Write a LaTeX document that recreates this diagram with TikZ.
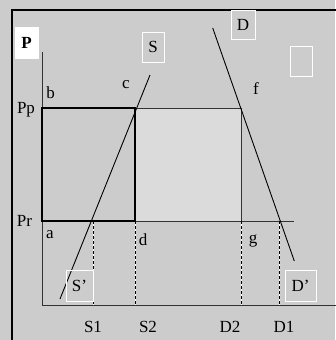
\documentclass[tikz,border=0pt]{standalone}
\usepackage{fontspec}
\setmainfont{Liberation Serif}
\usetikzlibrary{positioning}

\begin{document}
\begin{tikzpicture}[x=1pt,y=-1pt,font=\fontsize{17}{19}\selectfont,
  lab/.style={inner sep=0pt},
  tag/.style={draw=white,line width=1pt,inner sep=0pt},
  thk/.style={line width=2pt},
  axis/.style={draw=black!80,line width=0.9pt},
  dsh/.style={black,dashed,dash pattern=on 3pt off 2pt,line width=0.8pt}]
  \useasboundingbox (0,0) rectangle (335,340);
  \fill[black!20] (0,0) rectangle (335,340);
  \draw[line width=1.6pt] (12,350) -- (12,10) -- (350,10);
  % key points
  \coordinate (b) at (42,108);  \coordinate (c) at (135,108);
  \coordinate (a) at (42,221);  \coordinate (d) at (135,221);
  \coordinate (f) at (241,108); \coordinate (g) at (241,221);
  \coordinate (s1) at (93,221); \coordinate (d1) at (279,221);
  \coordinate (top) at (42,52); \coordinate (o) at (42,305);
  \coordinate (xend) at (345,305); \coordinate (prend) at (294,221);
  \fill[black!14] (c) rectangle (g);
  \draw[axis] (top) -- (o) -- (xend);
  \draw[axis] (c) -- (f) -- (g);
  \draw[axis] (d) -- (prend);
  \draw[thk] (b) rectangle (d);
  % dashed drops
  \foreach \p in {s1,d,g,d1}{
    \draw[white,line width=0.8pt] (\p) -- (\p |- o);
    \draw[dsh] (\p) -- (\p |- o);}
  % supply and demand
  \coordinate (sLo) at (60,299);  \coordinate (sHi) at (150,75);
  \coordinate (dHi) at (212.7,28); \coordinate (dLo) at (294.3,261);
  \draw[line width=0.9pt] (sLo) -- (sHi);
  \draw[line width=0.9pt] (dHi) -- (dLo);
  % boxes
  \node[tag,fill=white,minimum width=23pt,minimum height=31pt] (pbox) at (26.5,42.5) {\textbf{P}};
  \node[tag,minimum width=22pt,minimum height=30pt] (sbox) at (153,47) {S};
  \node[tag,minimum width=24pt,minimum height=29pt] (dbox) at (243,24.5) {D};
  \node[tag,minimum width=22pt,minimum height=30pt] (ebox) at (301,61) {};
  \node[tag,minimum width=27pt,minimum height=31pt] (sprime) at (79.5,285.5) {S'};
  \node[tag,minimum width=31pt,minimum height=31pt] (dprime) at (300.5,285.5) {D'};
  % labels
  \node[lab] (lb) at (50.5,93) {b};
  \node[lab] (lc) at (126,85) {c};
  \node[lab] (lpp) at (26,110) {Pp};
  \node[lab] (lpr) at (24.5,221) {Pr};
  \node[lab] (la) at (50,235) {a};
  \node[lab] (ld) at (143,240) {d};
  \node[lab] (lf) at (256,89) {f};
  \node[lab] (lg) at (253,241) {g};
  \node[lab] (ls1) at (93,327) {S1};
  \node[lab] (ls2) at (148,327) {S2};
  \node[lab] (ld2) at (230,327) {D2};
  \node[lab] (ld1) at (284,327) {D1};
\end{tikzpicture}
\end{document}
